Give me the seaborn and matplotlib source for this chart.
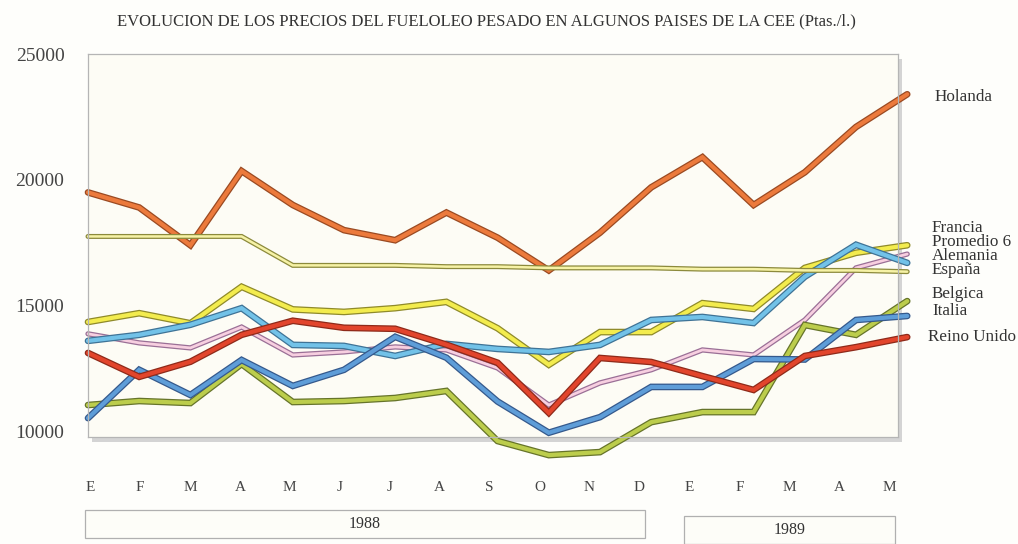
import pandas as pd
import numpy as np
import seaborn as sns
import matplotlib.pyplot as plt
import matplotlib.patheffects as pe
from matplotlib.patches import Rectangle

# Meses (E 1988 ... M 1989)
meses = ['E', 'F', 'M', 'A', 'M', 'J', 'J', 'A', 'S', 'O', 'N', 'D',
         'E', 'F', 'M', 'A', 'M']

holanda = [19500, 18900, 17400, 20350, 19000, 18000, 17600, 18700, 17700,
           16400, 17900, 19700, 20900, 19000, 20300, 22100, 23400]
francia = [14350, 14700, 14300, 15750, 14850, 14750, 14900, 15150, 14100,
           12650, 13950, 13950, 15100, 14870, 16500, 17100, 17400]
promedio6 = [13880, 13520, 13320, 14150, 13040, 13160, 13360, 13240, 12520,
             11050, 11930, 12450, 13240, 13040, 14430, 16500, 17050]
alemania = [13600, 13840, 14240, 14900, 13440, 13400, 13000, 13480, 13280,
            13160, 13440, 14430, 14550, 14310, 16150, 17420, 16700]
espana = [17750, 17750, 17750, 17750, 16600, 16600, 16600, 16550, 16550,
          16500, 16500, 16500, 16450, 16450, 16400, 16400, 16350]
belgica = [11050, 11210, 11130, 12680, 11170, 11210, 11330, 11610, 9620,
           9060, 9180, 10370, 10770, 10770, 14230, 13840, 15180]
italia = [10530, 12450, 11450, 12840, 11810, 12450, 13760, 12930, 11190,
          9950, 10570, 11770, 11770, 12880, 12860, 14430, 14590]
reino_unido = [13120, 12170, 12770, 13840, 14400, 14120, 14080, 13450, 12730,
               10740, 12920, 12760, 12200, 11650, 13000, 13350, 13750]

paises = ['Holanda', 'Francia', 'Promedio 6', 'Alemania', 'España',
          'Belgica', 'Italia', 'Reino Unido']
series = [holanda, francia, promedio6, alemania, espana, belgica, italia,
          reino_unido]

# colores: relleno, contorno, grosor
colores = {'Holanda': '#ec7a3c', 'Francia': '#f3ec4e', 'Promedio 6': '#f7cfe0',
           'Alemania': '#72c2e8', 'España': '#f6f2a6', 'Belgica': '#bccd4c',
           'Italia': '#5e9dd8', 'Reino Unido': '#e2452c'}
bordes = {'Holanda': '#9a4a22', 'Francia': '#8f8a2a', 'Promedio 6': '#9a6f96',
          'Alemania': '#3f7396', 'España': '#8c8a3c', 'Belgica': '#66742a',
          'Italia': '#35598c', 'Reino Unido': '#8e2a1a'}
grosor = {'Holanda': 3.0, 'Francia': 3.0, 'Promedio 6': 2.0, 'Alemania': 3.0,
          'España': 1.8, 'Belgica': 3.0, 'Italia': 3.0, 'Reino Unido': 3.0}

df = pd.DataFrame({
    'mes': np.tile(np.arange(len(meses)), len(paises)),
    'precio': np.concatenate(series),
    'pais': np.repeat(paises, len(meses)),
})

sns.set_style('white')
plt.rcParams['font.family'] = ['Liberation Serif', 'DejaVu Serif']

fig = plt.figure(figsize=(10.18, 5.44), dpi=100, facecolor='#fefefb')
ax = fig.add_axes([88 / 1018, 1 - 437 / 544, 810 / 1018, 383 / 544])
ax.set_facecolor('#fdfcf5')

sns.lineplot(data=df, x='mes', y='precio', hue='pais', hue_order=paises,
             palette=colores, legend=False, ax=ax, linewidth=3)

for line, pais in zip(ax.lines, paises):
    lw = grosor[pais]
    line.set_linewidth(lw)
    line.set_solid_joinstyle('miter')
    line.set_clip_on(False)
    line.set_path_effects([pe.Stroke(linewidth=lw + 1.8, foreground=bordes[pais]),
                           pe.Normal()])

# las letras de los meses van algo mas juntas que los puntos
pos_meses = (2 + 49.94 * np.arange(len(meses))) / 51.19
ax.set_xticks(pos_meses)
ax.set_xticklabels(meses)
ax.set_yticks([10000, 15000, 20000, 25000])
ax.set_yticklabels(['10000', '15000', '20000', '25000'])
ax.set_xlim(0, 15.82)
ax.set_ylim(9780, 25000)
ax.tick_params(axis='x', length=0, pad=32, labelsize=11, labelcolor='#444444')
ax.tick_params(axis='y', length=0, pad=17, labelsize=14, labelcolor='#444444')
ax.set_xlabel('')
ax.set_ylabel('')
for s in ax.spines.values():
    s.set_color('#b5b5b5')
    s.set_linewidth(0.9)

# sombra del marco
fig.patches.append(Rectangle((92 / 1018, 1 - 442 / 544), 810 / 1018, 383 / 544,
                             transform=fig.transFigure, facecolor='#d4d4d4',
                             edgecolor='none', zorder=-1))

fig.text(117 / 1018, 1 - 21 / 544,
         'EVOLUCION DE LOS PRECIOS DEL FUELOLEO PESADO EN ALGUNOS PAISES DE LA CEE (Ptas./l.)',
         fontsize=12, color='#333333', va='center', ha='left')

# etiquetas de series
etiquetas = [('Holanda', 935, 97), ('Francia', 932, 228), ('Promedio 6', 932, 242),
             ('Alemania', 932, 256), ('España', 932, 270), ('Belgica', 932, 294),
             ('Italia', 932, 311), ('Reino Unido', 928, 337)]
for txt, x, y in etiquetas:
    fig.text(x / 1018, 1 - y / 544, txt, fontsize=12.3, color='#333333',
             va='center', ha='left')

# cajas de años
for anio, x0, x1, y0, y1 in [('1988', 85, 645, 510, 538), ('1989', 684, 895, 516, 544)]:
    fig.patches.append(Rectangle((x0 / 1018, 1 - y1 / 544), (x1 - x0) / 1018,
                                 (y1 - y0) / 544, transform=fig.transFigure,
                                 facecolor='#fdfdf8', edgecolor='#b0b0b0',
                                 linewidth=0.9))
    fig.text((x0 + x1) / 2 / 1018, 1 - (y0 + y1) / 2 / 544, anio, fontsize=11.5,
             color='#333333', ha='center', va='center')

fig.savefig('out.png', dpi=100, facecolor=fig.get_facecolor())
